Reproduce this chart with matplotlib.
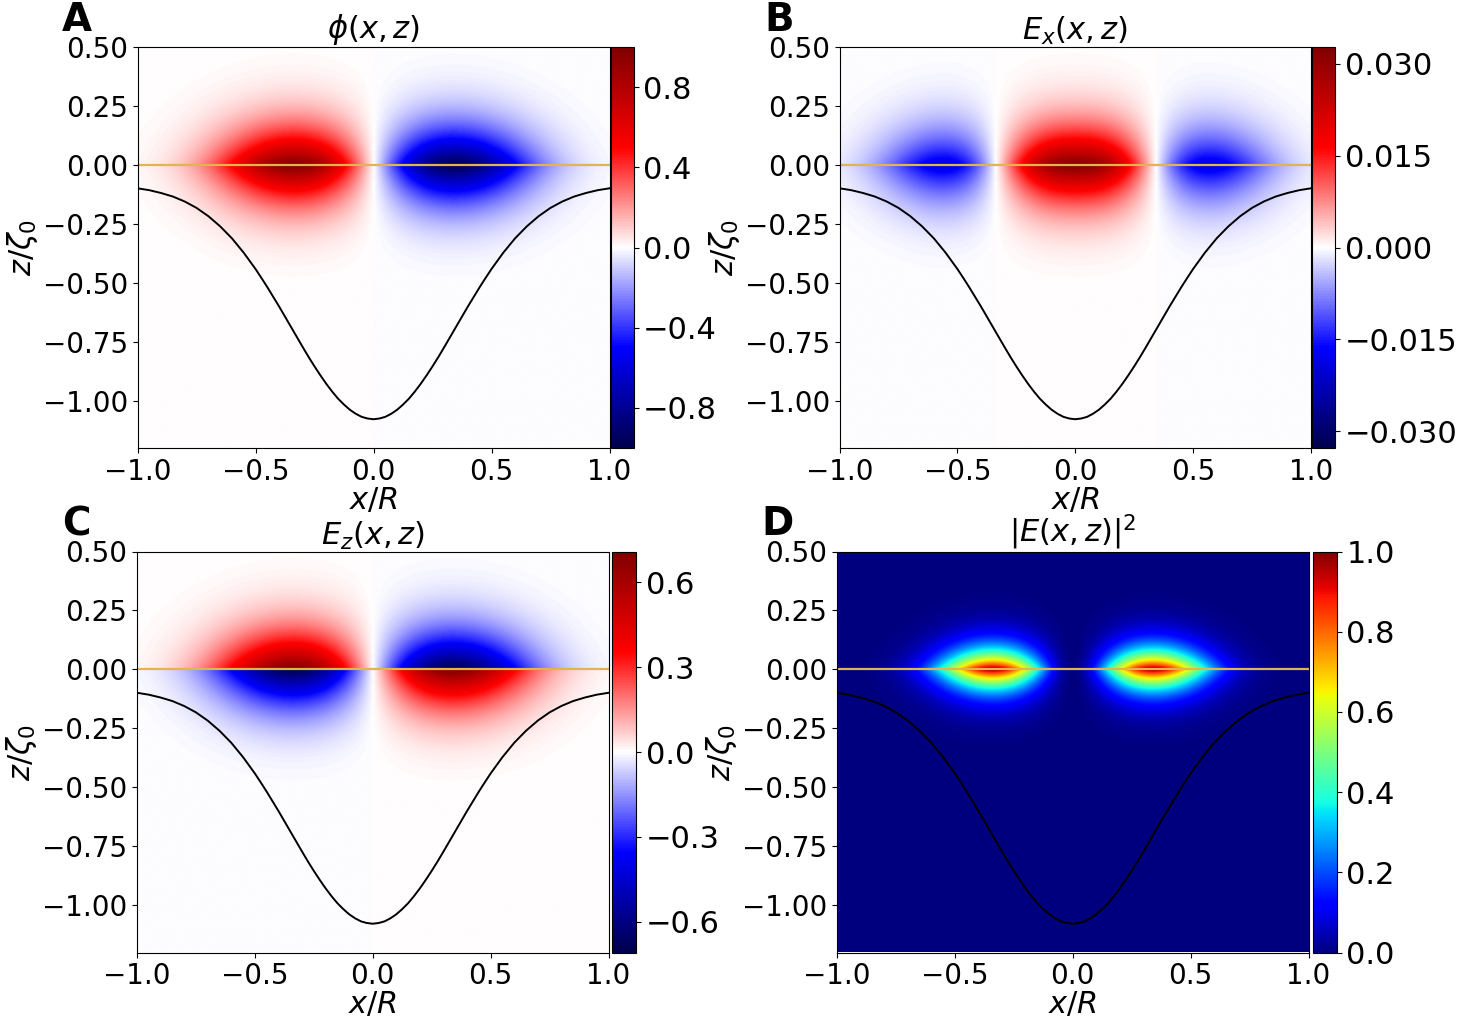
import matplotlib
matplotlib.use("Agg")
import matplotlib.pyplot as plt
import numpy as np
from matplotlib.ticker import FuncFormatter


# surface profile (black line), symmetric in x
curve_x_half = [0.000, 0.025, 0.050, 0.075, 0.100, 0.125, 0.150, 0.175, 0.200, 0.225,
                0.250, 0.275, 0.300, 0.325, 0.350, 0.375, 0.400, 0.425, 0.450, 0.475,
                0.500, 0.550, 0.600, 0.650, 0.700, 0.750, 0.800, 0.850, 0.900, 0.950, 1.000]
curve_z_half = [-1.078, -1.075, -1.068, -1.055, -1.038, -1.016, -0.991, -0.961, -0.928, -0.892,
                -0.854, -0.814, -0.772, -0.729, -0.686, -0.643, -0.600, -0.559, -0.518, -0.479,
                -0.441, -0.372, -0.311, -0.260, -0.217, -0.182, -0.155, -0.134, -0.119, -0.107, -0.099]

# field parameters
phi_peak = 1.0        # max of phi (colorbar A)
ex_peak = 0.0327      # max of E_x (colorbar B)
ez_peak = 0.708       # max of E_z (colorbar C)
lobe_x = 0.34         # x of the phi lobes
lobe_power = 2.4      # sharpness of the lobe fall-off in x
decay_z = 0.20        # exponential decay length away from z = 0
cutoff_z = 0.30       # gaussian cut-off further from z = 0

titles = [r"$\phi(x,z)$", r"$E_x(x,z)$", r"$E_z(x,z)$", r"$|E(x,z)|^2$"]
letters = ["A", "B", "C", "D"]
cbar_ticks = [
    [-0.8, -0.4, 0.0, 0.4, 0.8],
    [-0.030, -0.015, 0.0, 0.015, 0.030],
    [-0.6, -0.3, 0.0, 0.3, 0.6],
    [0.0, 0.2, 0.4, 0.6, 0.8, 1.0],
]
cbar_digits = [1, 3, 1, 1]

XLIM = (-1.0, 1.0)
ZLIM = (-1.2, 0.5)
W, H = 1459, 1027


def build_fields():
    x = np.linspace(XLIM[0], XLIM[1], 801)
    z = np.linspace(ZLIM[0], ZLIM[1], 681)
    X, Z = np.meshgrid(x, z)
    u = X / lobe_x
    env = np.exp((1 - np.abs(u) ** lobe_power) / lobe_power)
    zdec = np.exp(-np.abs(Z) / decay_z - (Z / cutoff_z) ** 2)
    sgn = np.where(Z >= 0, 1.0, -1.0)

    phi = -phi_peak * u * env * zdec
    ex_shape = (1 - np.abs(u) ** lobe_power) * env
    ex = ex_peak * ex_shape / np.exp(1 / lobe_power) * zdec
    ez = -ez_peak * u * env * sgn * zdec
    e2 = ex ** 2 + ez ** 2
    e2 = e2 / e2.max()
    return phi, ex, ez, e2


def px_rect(l, t, r, b):
    return [l / W, 1 - b / H, (r - l) / W, (b - t) / H]


def minus_fmt(digits):
    return FuncFormatter(lambda v, pos: f"{v:.{digits}f}".replace("-", "\u2212"))


def main():
    phi, ex, ez, e2 = build_fields()
    fields = [phi, ex, ez, e2]
    cmaps = ["seismic", "seismic", "seismic", "jet"]
    limits = [
        (-np.abs(phi).max(), np.abs(phi).max()),
        (-np.abs(ex).max(), np.abs(ex).max()),
        (-np.abs(ez).max(), np.abs(ez).max()),
        (0.0, 1.0),
    ]

    # pixel boxes: axes, colorbar
    boxes = [
        ((137.5, 47, 609.5, 448), (610.5, 47, 633.5, 448)),
        ((839.5, 47, 1311, 448), (1311.5, 47, 1335, 448)),
        ((137, 551.5, 608.5, 952.5), (612, 551.5, 636, 952.5)),
        ((837, 551.5, 1308.5, 952.5), (1313, 551.5, 1336.5, 952.5)),
    ]
    letter_pos = [(62, 31), (764, 31), (62, 535), (761, 535)]

    curve_x = [-v for v in curve_x_half[::-1]] + curve_x_half[1:]
    curve_z = curve_z_half[::-1] + curve_z_half[1:]

    fig = plt.figure(figsize=(W / 100, H / 100), dpi=100)
    for i in range(4):
        ax = fig.add_axes(px_rect(*boxes[i][0]))
        cax = fig.add_axes(px_rect(*boxes[i][1]))
        im = ax.imshow(fields[i], cmap=cmaps[i], vmin=limits[i][0], vmax=limits[i][1],
                       extent=[XLIM[0], XLIM[1], ZLIM[0], ZLIM[1]], origin="lower",
                       aspect="auto", interpolation="bilinear")
        ax.plot(curve_x, curve_z, color="black", lw=1.4)
        ax.axhline(0.0, color="#e2b44e", lw=1.6)
        ax.set_xlim(*XLIM)
        ax.set_ylim(*ZLIM)
        ax.set_xticks([-1.0, -0.5, 0.0, 0.5, 1.0])
        ax.set_yticks([0.5, 0.25, 0.0, -0.25, -0.5, -0.75, -1.0])
        ax.tick_params(labelsize=20)
        ax.set_xlabel(r"$x/R$", fontsize=22, labelpad=0)
        ax.set_ylabel(r"$z/\zeta_0$", fontsize=22, labelpad=2)
        ax.set_title(titles[i], fontsize=22, pad=2)

        cb = fig.colorbar(im, cax=cax, ticks=cbar_ticks[i], format=minus_fmt(cbar_digits[i]))
        cb.ax.tick_params(labelsize=22)

        lx, ly = letter_pos[i]
        fig.text(lx / W, 1 - ly / H, letters[i], fontsize=28, fontweight="bold",
                 ha="left", va="baseline")

    fig.savefig("out.png", dpi=100)
    plt.close(fig)


if __name__ == "__main__":
    main()
